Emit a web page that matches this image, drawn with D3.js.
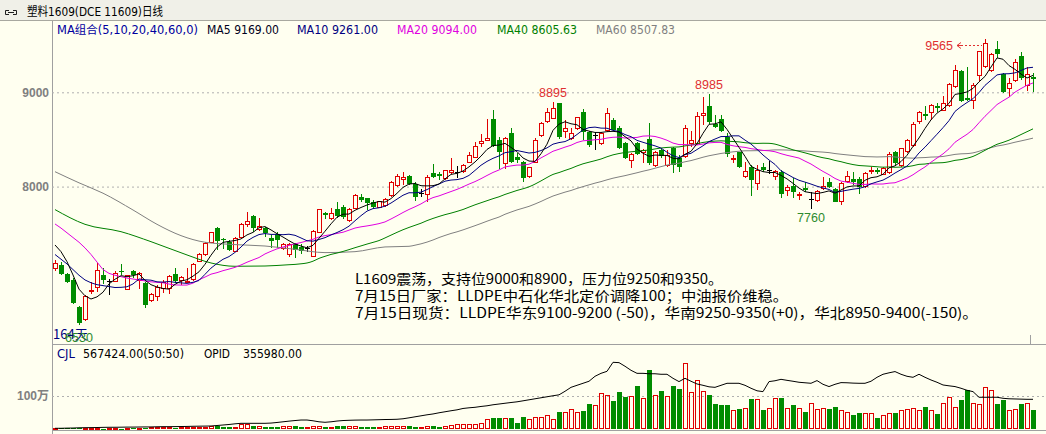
<!DOCTYPE html>
<html>
<head>
<meta charset="utf-8">
<script src="https://cdn.jsdelivr.net/npm/d3@7"></script>
<style>
  body { margin: 0; background: #fffff0; }
  svg { display: block; }
</style>
</head>
<body>
<script>
// daily OHLC of L1609, 164 sessions
var opens = [7134,7169,7070,7010,6727,6586,6890,6929,7063,6990,
  6992,7109,6911,7105,6999,6975,6787,6833,6915,6922,
  7070,6999,6986,7010,7211,7275,7409,7558,7445,7416,
  7317,7459,7593,7692,7547,7565,7452,7494,7346,7275,
  7388,7364,7339,7258,7516,7717,7664,7763,7788,7636,
  7770,7894,7876,7841,7777,7798,7901,8010,8070,8113,
  8024,7929,7912,8141,8130,8081,8152,8152,8159,8254,
  8307,8459,8491,8717,8494,8247,8565,8318,8265,8106,
  8258,8540,8689,8724,8883,8583,8512,8611,8788,8576,
  8547,8459,8600,8706,8625,8459,8272,8459,8360,8505,
  8229,8388,8222,8413,8300,8318,8459,8459,8752,8858,
  8660,8717,8530,8286,8364,8106,8212,8035,8212,8166,
  8106,8159,7954,8010,7904,7982,7862,7851,7982,8053,
  7975,7841,8053,8081,8081,8000,8159,8176,8130,8152,
  8364,8229,8371,8441,8689,8766,8788,8858,8812,8865,
  9060,9226,8943,8908,9176,9272,9236,9459,9190,9035,
  9130,9388,9077,9159];
var highs = [7222,7197,7081,7028,6738,6851,6985,7187,7134,7021,
  7105,7176,7063,7116,7098,6985,6869,6957,7010,7063,
  7141,7056,7141,7187,7293,7409,7522,7575,7459,7434,
  7469,7611,7734,7699,7671,7575,7487,7515,7399,7399,
  7399,7388,7374,7540,7760,7735,7770,7834,7806,7770,
  7919,7919,7883,7858,7848,7876,8060,8130,8152,8123,
  8046,7975,8123,8236,8159,8176,8307,8222,8236,8371,
  8477,8554,8717,8812,8530,8530,8618,8353,8272,8212,
  8512,8689,8830,8895,8883,8706,8618,8742,8823,8590,
  8576,8583,8837,8724,8646,8477,8353,8477,8399,8671,
  8378,8413,8388,8424,8335,8653,8590,8788,8954,8985,
  8759,8759,8565,8335,8371,8258,8229,8229,8247,8272,
  8176,8176,8017,8088,7947,8053,7947,7964,8106,8088,
  7989,8053,8166,8159,8106,8152,8212,8194,8212,8364,
  8378,8413,8505,8682,8802,8858,8872,8883,8961,9095,
  9289,9236,9272,9095,9438,9565,9413,9544,9201,9148,
  9353,9431,9272,9201];
var lows = [7105,7063,6982,6756,6530,6575,6862,6879,6964,6851,
  6985,7063,6904,7028,6911,6710,6780,6787,6869,6862,
  6975,6957,6980,6999,7204,7264,7399,7328,7339,7317,
  7303,7452,7575,7522,7529,7469,7346,7353,7328,7257,
  7240,7283,7311,7251,7505,7657,7646,7671,7657,7629,
  7760,7841,7753,7770,7770,7788,7894,8000,8017,8017,
  7848,7894,7834,8095,8070,8070,8130,8088,8141,8247,
  8300,8424,8484,8424,8187,8187,8247,8247,8053,8088,
  8247,8530,8678,8717,8505,8512,8494,8600,8494,8424,
  8388,8441,8583,8590,8399,8293,8201,8335,8247,8229,
  8212,8300,8212,8141,8159,8300,8424,8441,8653,8660,
  8618,8583,8318,8247,8201,8088,7904,7964,8159,8130,
  8070,7876,7904,7876,7858,7940,7760,7841,7964,7982,
  7834,7805,8035,8017,7918,7982,8130,8130,8123,8130,
  8222,8212,8353,8424,8660,8706,8706,8795,8802,8848,
  9042,8901,8908,8823,9120,9254,9219,9360,8989,8954,
  9113,9130,9014,9007];
var closes = [7187,7070,6992,6763,6551,6833,6901,7105,7010,6990,
  7081,7091,7052,7063,7081,6745,6858,6929,6985,7045,
  6999,7035,6997,7176,7275,7399,7515,7423,7430,7328,
  7445,7600,7635,7565,7575,7505,7423,7434,7388,7381,
  7328,7318,7339,7523,7753,7700,7710,7692,7682,7760,
  7901,7858,7823,7788,7841,7866,8046,8106,8095,8024,
  7894,7929,8095,8106,8113,8166,8166,8152,8229,8335,
  8424,8477,8505,8434,8364,8512,8265,8282,8095,8201,
  8494,8671,8788,8830,8530,8618,8565,8735,8583,8441,
  8547,8565,8777,8600,8406,8300,8342,8342,8378,8247,
  8364,8328,8335,8229,8212,8611,8484,8742,8777,8689,
  8636,8590,8342,8300,8212,8159,8070,8176,8176,8166,
  8159,7918,7989,7940,7918,7964,7862,7947,8000,8000,
  7841,8035,8106,8053,8000,8141,8173,8152,8187,8342,
  8247,8399,8484,8660,8788,8752,8858,8837,8883,9085,
  9226,8908,8918,9070,9431,9519,9402,9402,8999,9095,
  9318,9155,9190,9141];

// volume (CJL) and open interest (OPID), in 万
var volumes = [3,3,4,5,4,3,3,2,2,3,
  2,2,2,3,2,3,4,5,6,5,
  5,4,4,5,5,6,8,10,8,7,
  6,13,13,10,8,6,6,8,8,7,
  10,6,6,8,8,6,6,10,9,8,
  8,8,6,7,6,7,8,8,9,10,
  8,6,9,10,6,8,10,13,14,14,
  15,18,28,33,33,33,33,18,36,30,
  36,36,40,28,53,50,58,50,56,76,
  70,108,103,85,111,96,100,130,93,178,
  103,115,100,130,121,198,111,146,115,103,
  76,73,73,55,60,63,90,88,58,61,
  93,93,63,73,63,53,76,58,63,61,
  66,55,51,43,48,48,46,35,40,46,
  48,56,58,63,55,66,55,46,78,96,
  66,88,118,78,73,126,118,76,88,55,
  60,76,76,58];
var opid = [1.2,1.2,1.4,1.5,1.8,1.9,2.0,2.1,2.3,2.4,
  2.4,2.5,2.6,2.6,2.7,2.8,2.8,3.0,3.1,3.1,
  3.2,3.3,3.4,3.6,3.7,3.8,3.9,4.5,5.1,5.7,
  6.5,7.1,7.1,7.1,7.1,7.1,7.4,8.1,8.9,9.7,
  10.4,11.0,11.0,10.1,8.9,8.3,8.9,9.8,10.4,10.7,
  10.9,11.0,11.0,11.2,11.4,11.6,11.7,11.9,12.5,13.6,
  14.8,16.0,17.2,18.2,19.6,20.8,22.0,23.1,24.7,25.5,
  26.1,27.1,27.9,29.1,30.0,30.9,31.8,32.6,33.8,35.0,
  36.2,37.4,38.6,39.8,40.9,45.1,49.8,52.2,54.6,57.0,
  62.9,66.4,68.8,79.5,79.1,74.8,70.0,66.4,66.4,65.9,
  65.9,65.3,65.3,60.5,56.6,60.5,57.0,53.8,52.2,50.4,
  49.8,52.2,54.6,54.6,54.6,52.2,48.7,45.7,44.7,56.6,
  57.6,59.3,58.1,57.0,55.8,55.2,54.6,57.8,53.4,50.7,
  53.4,55.4,55.2,54.8,54.6,54.6,57.0,61.7,65.3,67.0,
  68.5,65.3,62.9,61.7,65.3,61.7,58.5,55.8,52.6,51.6,
  50.7,48.7,46.3,44.7,38.0,38.0,38.0,38.0,36.8,36.2,
  36.0,35.8,35.6,35.6];

// moving average values before enough sessions are on screen
var ma5Lead = [7381, 7310, 7204, 7063];
var ma10Lead = [7280, 7230, 7180, 7120, 7060, 7010, 6980, 6960, 6950];
var ma20Lead = [7604, 7560, 7510, 7460, 7410, 7350, 7280, 7200, 7120, 7080,
  7060, 7045, 7030, 7020, 7010, 7000, 6990, 6985, 6980];
var ma40Lead = [[0, 7756], [5, 7600], [11, 7522], [16, 7416], [22, 7275], [26, 7190], [30, 7155], [35, 7158]];
var ma60Lead = [[0, 8158], [4, 8040], [8, 7930], [13, 7752], [17, 7600], [21, 7480], [25, 7410],
  [30, 7385], [35, 7370], [40, 7335], [45, 7300], [50, 7310], [55, 7360]];

var priceTicks = [8000, 9000];
var volTicks = [100];

var width = 1046, height = 434;
var n = closes.length;
var UP = "#e00000", DOWN = "#008c00", BG = "#fffff0";
var LATIN = "'DejaVu Sans', 'Noto Sans CJK SC', sans-serif";
var CJK = "'Noto Sans CJK SC', sans-serif";

var x = d3.scaleLinear().domain([0, n - 1]).range([55, 1033]);
var y = d3.scaleLinear().domain([8000, 9000]).range([186.6, 92.3]);
var yVol = d3.scaleLinear().domain([0, 100]).range([429.3, 396]);
var yOp = d3.scaleLinear().domain([0, 35.598]).range([429.3, 399.3]);

var svg = d3.select("body").append("svg")
  .attr("width", width)
  .attr("height", height);

svg.append("rect").attr("width", width).attr("height", height).attr("fill", BG);

// title bar
svg.append("rect").attr("width", width).attr("height", 20).attr("fill", "#f0f0e8");
svg.append("line").attr("x1", 0).attr("x2", width).attr("y1", 20.5).attr("y2", 20.5).attr("stroke", "#a8a8a0");
svg.append("path")
  .attr("d", "M9,10.5 H5.5 V14.5 H9 M13,10.5 H16.5 V14.5 H13 M8,12.5 H14")
  .attr("fill", "none").attr("stroke", "#202020");
svg.append("text").attr("x", 27).attr("y", 16)
  .attr("textLength", 136).attr("lengthAdjust", "spacingAndGlyphs")
  .style("font-family", LATIN).style("font-size", "12px").attr("fill", "#000")
  .text("塑料1609(DCE 11609)日线");

// frame lines
var frame = svg.append("g").attr("stroke", "#a0a0a0").attr("shape-rendering", "crispEdges");
frame.append("line").attr("x1", 52.5).attr("x2", 52.5).attr("y1", 21).attr("y2", height);
frame.append("line").attr("x1", 52).attr("x2", width).attr("y1", 344.5).attr("y2", 344.5);
frame.append("line").attr("x1", 52).attr("x2", width).attr("y1", 430.5).attr("y2", 430.5);
frame.append("line").attr("x1", 1030.5).attr("x2", 1030.5).attr("y1", 335).attr("y2", 344);

// price grid + labels
var gPrice = svg.append("g").attr("transform", "translate(52,0)")
  .call(d3.axisLeft(y).tickValues(priceTicks).tickSizeInner(-(width - 52)).tickSizeOuter(0)
    .tickPadding(3).tickFormat(d3.format("d")));
gPrice.select(".domain").remove();
gPrice.selectAll("line").attr("stroke", "#b0b0b0").attr("stroke-dasharray", "2,3");
gPrice.selectAll("text").attr("fill", "#808080")
  .style("font-family", "'Liberation Sans', sans-serif").style("font-size", "12px").style("font-weight", "bold");

// volume grid + labels
var gVol = svg.append("g").attr("transform", "translate(52,0)")
  .call(d3.axisLeft(yVol).tickValues(volTicks).tickSizeInner(-(width - 52)).tickSizeOuter(0)
    .tickPadding(3).tickFormat(function(d) { return d + "万"; }));
gVol.select(".domain").remove();
gVol.selectAll("line").attr("stroke", "#b0b0b0").attr("stroke-dasharray", "2,3");
gVol.selectAll("text").attr("fill", "#808080")
  .style("font-family", "'Liberation Sans', 'Noto Sans CJK SC', sans-serif").style("font-size", "12px").style("font-weight", "bold");

// candles
var cg = svg.append("g").attr("shape-rendering", "crispEdges");
closes.forEach(function(c, i) {
  var o = opens[i], h = highs[i], l = lows[i];
  var cx = Math.round(x(i)) + 0.5;
  var top = y(Math.max(o, c)), bot = y(Math.min(o, c));
  if (c > o) {
    if (y(h) < top) cg.append("line").attr("x1", cx).attr("x2", cx).attr("y1", y(h)).attr("y2", top).attr("stroke", UP);
    if (y(l) > bot) cg.append("line").attr("x1", cx).attr("x2", cx).attr("y1", bot).attr("y2", y(l)).attr("stroke", UP);
    cg.append("rect").attr("x", cx - 2).attr("y", top).attr("width", 4).attr("height", Math.max(bot - top, 1))
      .attr("fill", BG).attr("stroke", UP);
  } else if (c < o) {
    cg.append("line").attr("x1", cx).attr("x2", cx).attr("y1", y(h)).attr("y2", y(l)).attr("stroke", DOWN);
    cg.append("rect").attr("x", cx - 2.5).attr("y", top).attr("width", 5).attr("height", Math.max(bot - top, 1))
      .attr("fill", DOWN);
  } else {
    cg.append("line").attr("x1", cx).attr("x2", cx).attr("y1", y(h)).attr("y2", y(l)).attr("stroke", "#000");
    cg.append("line").attr("x1", cx - 2.5).attr("x2", cx + 2.5).attr("y1", top).attr("y2", top).attr("stroke", "#000");
  }
});

// moving averages
function movingAvg(len, lead) {
  return closes.map(function(c, i) {
    var v = i < len - 1 ? lead[i] : d3.mean(closes.slice(i - len + 1, i + 1));
    return [i, v];
  });
}
function longAvg(len, lead) {
  var pts = lead.slice();
  for (var i = len - 1; i < n; i++) pts.push([i, d3.mean(closes.slice(i - len + 1, i + 1))]);
  return pts;
}
var maLine = d3.line().x(function(d) { return x(d[0]); }).y(function(d) { return y(d[1]); });
var maSmooth = d3.line().curve(d3.curveMonotoneX).x(function(d) { return x(d[0]); }).y(function(d) { return y(d[1]); });

var mas = [
  { pts: longAvg(60, ma60Lead), color: "#808080", gen: maSmooth },
  { pts: longAvg(40, ma40Lead), color: "#008000", gen: maSmooth },
  { pts: movingAvg(20, ma20Lead), color: "#e000e0", gen: maLine },
  { pts: movingAvg(10, ma10Lead), color: "#000080", gen: maLine },
  { pts: movingAvg(5, ma5Lead), color: "#000000", gen: maLine }
];
mas.forEach(function(m) {
  svg.append("path").attr("d", m.gen(m.pts)).attr("fill", "none")
    .attr("stroke", m.color).attr("stroke-width", 1);
});

// MA legend
var legend = [
  { t: "MA组合(5,10,20,40,60,0)", x: 57, w: 141, c: "#0000a0" },
  { t: "MA5 9169.00", x: 207, w: 72, c: "#000020" },
  { t: "MA10 9261.00", x: 297, w: 81, c: "#000080" },
  { t: "MA20 9094.00", x: 397, w: 80, c: "#e000e0" },
  { t: "MA40 8605.63", x: 497, w: 80, c: "#008000" },
  { t: "MA60 8507.83", x: 596, w: 79, c: "#808080" }
];
svg.selectAll(".leg").data(legend).enter().append("text")
  .attr("x", function(d) { return d.x; }).attr("y", 34)
  .attr("textLength", function(d) { return d.w; }).attr("lengthAdjust", "spacingAndGlyphs")
  .attr("fill", function(d) { return d.c; })
  .style("font-family", LATIN).style("font-size", "11.5px")
  .text(function(d) { return d.t; });

// price marks
var LBL = "'Liberation Sans', sans-serif";
function mark(txt, xx, yy, color, anchor) {
  svg.append("text").attr("x", xx).attr("y", yy).attr("text-anchor", anchor || "middle")
    .attr("fill", color).style("font-family", LBL).style("font-size", "12.5px").text(txt);
}
mark("8895", x(83), 97, "#e03030");
mark("8985", x(109), 89, "#e03030");
mark("9565", 953, 49.5, "#e03030", "end");
mark("7760", x(126), 222, "#2e8b2e");
svg.append("line").attr("x1", 961).attr("x2", x(155) - 3).attr("y1", 45.5).attr("y2", 45.5)
  .attr("stroke", "#e03030").attr("stroke-dasharray", "2,2");
svg.append("path").attr("d", "M961,42.5 L957,45.5 L961,48.5 M957,45.5 H962")
  .attr("fill", "none").attr("stroke", "#e03030");

svg.append("text").attr("x", 53).attr("y", 339).attr("fill", "#000080")
  .style("font-family", CJK).style("font-size", "13px").text("164天");
mark("6530", x(4), 342, "#2e8b2e");

// commentary
var notes = [
  "L1609震荡，支持位9000和8900，压力位9250和9350。",
  "7月15日厂家：LLDPE中石化华北定价调降100；中油报价维稳。",
  "7月15日现货：LLDPE华东9100-9200 (-50)，华南9250-9350(+0)，华北8950-9400(-150)。"
];
var noteWidths = [368, 433, 623];
svg.selectAll(".note").data(notes).enter().append("text")
  .attr("x", 355).attr("y", function(d, i) { return 284 + i * 17; })
  .attr("textLength", function(d, i) { return noteWidths[i]; }).attr("lengthAdjust", "spacingAndGlyphs")
  .attr("fill", "#000")
  .style("font-family", CJK).style("font-size", "14px")
  .text(function(d) { return d; });

// volume bars
var vg = svg.append("g").attr("shape-rendering", "crispEdges");
volumes.forEach(function(v, i) {
  var cx = Math.round(x(i)) + 0.5;
  var top = yVol(v), base = yVol(0);
  if (closes[i] >= opens[i]) {
    vg.append("rect").attr("x", cx - 2).attr("y", top).attr("width", 4).attr("height", Math.max(base - top - 0.5, 1))
      .attr("fill", "none").attr("stroke", UP);
  } else {
    vg.append("rect").attr("x", cx - 2.5).attr("y", top).attr("width", 5).attr("height", Math.max(base - top, 1))
      .attr("fill", DOWN);
  }
});

// open interest line
svg.append("path")
  .attr("d", d3.line().x(function(d, i) { return x(i); }).y(function(d) { return yOp(d); })(opid))
  .attr("fill", "none").attr("stroke", "#000").attr("stroke-width", 1);

// volume legend
var volLegend = [
  { t: "CJL", x: 57, w: 18, c: "#000080" },
  { t: "567424.00(50:50)", x: 83, w: 101, c: "#000" },
  { t: "OPID", x: 204, w: 26, c: "#000" },
  { t: "355980.00", x: 243, w: 59, c: "#000" }
];
svg.selectAll(".vleg").data(volLegend).enter().append("text")
  .attr("x", function(d) { return d.x; }).attr("y", 357.5)
  .attr("textLength", function(d) { return d.w; }).attr("lengthAdjust", "spacingAndGlyphs")
  .attr("fill", function(d) { return d.c; })
  .style("font-family", LATIN).style("font-size", "11.5px")
  .text(function(d) { return d.t; });
</script>
</body>
</html>
